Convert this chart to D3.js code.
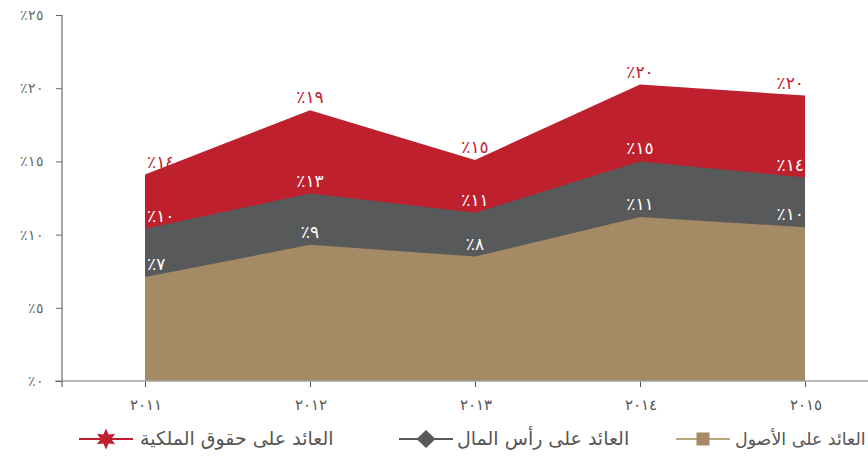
<!DOCTYPE html>
<html lang="ar">
<head>
<meta charset="utf-8">
<script src="https://cdn.jsdelivr.net/npm/d3@7"></script>
<style>
  html, body { margin: 0; padding: 0; background: #fff; }
  svg { display: block; font-family: "DejaVu Sans", "Noto Sans", sans-serif; }
</style>
</head>
<body>
<div class="chart-area"></div>
<script>
// Return ratios by year
const years = ["٢٠١١", "٢٠١٢", "٢٠١٣", "٢٠١٤", "٢٠١٥"];
const roeValues = [14.1, 18.5, 15.1, 20.25, 19.5];   // return on equity
const rocValues = [10.4, 12.8, 11.5, 15.0, 13.9];    // return on capital
const roaValues = [7.1, 9.3, 8.5, 11.2, 10.5];       // return on assets
const roeLabels = ["١٤", "١٩", "١٥", "٢٠", "٢٠"];
const rocLabels = ["١٠", "١٣", "١١", "١٥", "١٤"];
const roaLabels = ["٧", "٩", "٨", "١١", "١٠"];
const yTicks = [0, 5, 10, 15, 20, 25];
const seriesNames = ["العائد على حقوق الملكية", "العائد على رأس المال", "العائد على الأصول"];

const W = 868, H = 457;

// arabic-indic digits
const arDigits = n => String(n).replace(/\d/g, d => "٠١٢٣٤٥٦٧٨٩"[d]);

const svg = d3.select(".chart-area")
    .append("svg")
    .attr("width", W)
    .attr("height", H);

const x = d3.scalePoint().domain(years).range([145, 805]);
const y = d3.scaleLinear().domain([0, 25]).range([381, 15]);

const series = [
    { key: "roe", values: roeValues, labels: roeLabels, color: "#be202e", labelColor: "#be202e" },
    { key: "roc", values: rocValues, labels: rocLabels, color: "#58595b", labelColor: "#ffffff" },
    { key: "roa", values: roaValues, labels: roaLabels, color: "#a58a66", labelColor: "#ffffff" }
];

const area = d3.area()
    .x((d, i) => x(years[i]))
    .y0(y(0))
    .y1(d => y(d));

// areas overlap (not stacked), biggest one at the back
series.forEach(s => {
    svg.append("path")
        .datum(s.values)
        .attr("fill", s.color)
        .attr("d", area);
});

// x axis
const xAxis = svg.append("g")
    .attr("transform", `translate(0,${y(0)})`)
    .call(d3.axisBottom(x).tickSize(6).tickPadding(12));
xAxis.select(".domain").remove();
xAxis.selectAll("line").attr("stroke", "#555");
xAxis.selectAll("text")
    .attr("fill", "#555")
    .style("font-size", "15px");
svg.append("line")
    .attr("x1", 55).attr("x2", W)
    .attr("y1", y(0)).attr("y2", y(0))
    .attr("stroke", "#a3a3a3")
    .attr("stroke-width", 1.5);

// y axis
const yAxis = svg.append("g")
    .attr("transform", "translate(62,0)")
    .call(d3.axisLeft(y).tickValues(yTicks).tickSize(6).tickPadding(12)
        .tickFormat(d => "٪" + arDigits(d)));
yAxis.select(".domain").remove();
yAxis.selectAll("line").attr("stroke", "#666");
yAxis.selectAll("text")
    .attr("fill", "#666")
    .style("font-size", "14px");
svg.append("line")
    .attr("x1", 62).attr("x2", 62)
    .attr("y1", y(25)).attr("y2", y(0) + 6)
    .attr("stroke", "#6a6a6a")
    .attr("stroke-width", 1.2);

// value labels above each point
series.forEach(s => {
    svg.append("g").selectAll("text")
        .data(s.values)
        .enter()
        .append("text")
        .attr("x", (d, i) => x(years[i]) + (i === 0 ? 2 : i === years.length - 1 ? -1 : 0))
        .attr("y", d => y(d) - 7)
        .attr("text-anchor", (d, i) => i === 0 ? "start" : i === years.length - 1 ? "end" : "middle")
        .attr("fill", s.labelColor)
        .style("font-size", "17px")
        .text((d, i) => "٪" + s.labels[i]);
});

// legend
const legendY = 439;
const star6 = r => {
    const pts = [];
    for (let k = 0; k < 12; k++) {
        const a = -Math.PI / 2 + k * Math.PI / 6;
        const rr = k % 2 === 0 ? r : r * 0.5;
        pts.push([rr * Math.cos(a), rr * Math.sin(a)]);
    }
    return "M" + pts.map(p => p.join(",")).join("L") + "Z";
};
const legendItems = [
    { name: seriesNames[0], color: "#be202e", lineColor: "#be202e", x0: 79, x1: 133, textX: 140, marker: "star" },
    { name: seriesNames[1], color: "#58595b", lineColor: "#58595b", x0: 399, x1: 453, textX: 457, marker: "diamond" },
    { name: seriesNames[2], color: "#a58a66", lineColor: "#b9a683", x0: 676, x1: 730, textX: 735, marker: "square" }
];
legendItems.forEach(it => {
    const g = svg.append("g");
    g.append("line")
        .attr("x1", it.x0).attr("x2", it.x1)
        .attr("y1", legendY).attr("y2", legendY)
        .attr("stroke", it.lineColor)
        .attr("stroke-width", 2);
    const cx = (it.x0 + it.x1) / 2;
    if (it.marker === "star") {
        g.append("path").attr("d", star6(10.5))
            .attr("transform", `translate(${cx},${legendY})`)
            .attr("fill", it.color);
    } else if (it.marker === "diamond") {
        g.append("path").attr("d", "M0,-9L9.5,0L0,9L-9.5,0Z")
            .attr("transform", `translate(${cx},${legendY})`)
            .attr("fill", it.color);
    } else {
        g.append("rect")
            .attr("x", cx - 6.5).attr("y", legendY - 6.5)
            .attr("width", 13).attr("height", 13)
            .attr("fill", it.color);
    }
    const t = g.append("text")
        .attr("x", it.textX)
        .attr("y", legendY + 6)
        .attr("text-anchor", "start")
        .attr("fill", "#555")
        .style("font-size", "19px")
        .text(it.name);
    // shrink the last item so it stays inside the picture
    const len = t.node().getComputedTextLength();
    if (it.textX + len > W - 2) {
        t.style("font-size", (19 * (W - 2 - it.textX) / len).toFixed(1) + "px");
    }
});
</script>
</body>
</html>
